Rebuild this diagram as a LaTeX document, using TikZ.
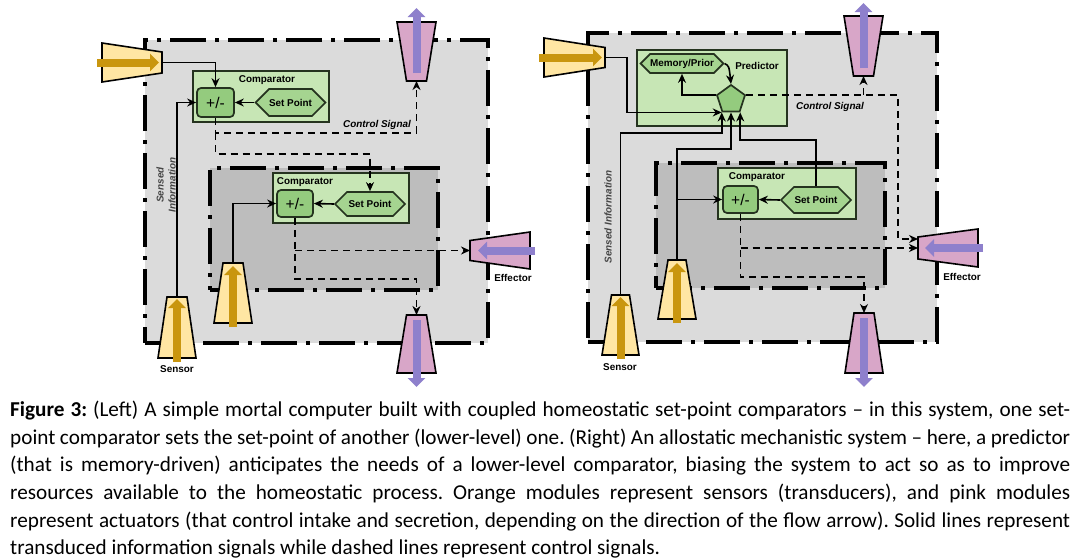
\documentclass[tikz,border=0pt]{standalone}
\usepackage{fontspec}
\setmainfont{Carlito}
\newfontfamily\arialf{Liberation Sans}
\usetikzlibrary{arrows.meta,shapes.geometric,shapes.symbols,calc}
\definecolor{lgray}{HTML}{DBDBDB}
\definecolor{dgray}{HTML}{BDBDBD}
\definecolor{cmpgreen}{HTML}{C7E6B5}
\definecolor{pmgreen}{HTML}{94CB7E}
\definecolor{spgreen}{HTML}{A5D490}
\definecolor{boxline}{HTML}{25331F}
\definecolor{sensfill}{HTML}{FFE6A3}
\definecolor{goldc}{HTML}{C9960F}
\definecolor{pinkfill}{HTML}{D8A6C8}
\definecolor{purp}{HTML}{8E80CC}
\definecolor{sensedc}{HTML}{454545}
\newcommand{\trapV}[7]{%
  \node[inner sep=0pt,outer sep=0pt,minimum width=#3pt,minimum height=#6pt] (#1) at #2 {};
  \draw[#7] ([xshift={(#3-#4)/2*1pt}]#1.south west) -- ([xshift={-(#3-#4)/2*1pt}]#1.south east)
     -- ([xshift={-(#3-#5)/2*1pt}]#1.north east) -- ([xshift={(#3-#5)/2*1pt}]#1.north west) -- cycle;}
\newcommand{\trapH}[7]{%
  \node[inner sep=0pt,outer sep=0pt,minimum width=#6pt,minimum height=#3pt] (#1) at #2 {};
  \draw[#7] ([yshift={-(#3-#4)/2*1pt}]#1.north west) -- ([yshift={(#3-#4)/2*1pt}]#1.south west)
     -- ([yshift={(#3-#5)/2*1pt}]#1.south east) -- ([yshift={-(#3-#5)/2*1pt}]#1.north east) -- cycle;}
\tikzset{
  diagfont/.style={font=\arialf\bfseries\fontsize{9.9}{11}\selectfont},
  lbl/.style={diagfont, inner sep=0pt},
  ctrllbl/.style={inner sep=0pt, font=\arialf\bfseries\itshape\fontsize{9.9}{11}\selectfont},
  sensedlbl/.style={inner sep=0pt, text=sensedc, rotate=90, align=center, font=\arialf\bfseries\itshape\fontsize{9.9}{12}\selectfont},
  sysbox/.style={draw=black, line width=3.6pt, dash pattern=on 36pt off 9pt on 4pt off 9pt, inner sep=0pt},
  greenbox/.style={draw=boxline, line width=1.7pt, fill=cmpgreen, inner sep=0pt},
  pmbox/.style={draw=boxline, line width=1.7pt, fill=pmgreen, rounded corners=4pt, inner sep=0pt, font=\arialf\fontsize{15.5}{15.5}\selectfont},
  hexa/.style={shape=signal, signal to=west and east, draw=boxline, line width=1.7pt, fill=spgreen, inner sep=0pt, diagfont},
  pentag/.style={regular polygon, regular polygon sides=5, minimum size=29.4pt, inner sep=0pt, draw=boxline, line width=1.7pt, fill=pmgreen},
  info/.style={draw=black, line width=1.6pt, -{Stealth[length=9pt,width=8pt]}},
  ctrl/.style={info, dash pattern=on 7pt off 5pt},
  sensorshape/.style={draw=black, line width=1.6pt, fill=sensfill},
  actshape/.style={draw=black, line width=1.6pt, fill=pinkfill},
  goldflow/.style={draw=goldc, line width=8pt, -{Triangle[length=9pt,width=17pt]}},
  purpflow/.style={draw=purp, line width=8pt, -{Triangle[length=9pt,width=17pt]}},
}
\begin{document}
\begin{tikzpicture}[x=1pt,y=-1pt]
\useasboundingbox (0,0) rectangle (1080,560);
\fill[white] (0,0) rectangle (1080,560);

% ================= LEFT =================
\node[sysbox, fill=lgray, minimum width=343pt, minimum height=303pt] (sysL) at (316.5,191.5) {};
\node[sysbox, fill=dgray, minimum width=228pt, minimum height=122pt] (subL) at (324,229) {};

\node[greenbox, minimum width=136pt, minimum height=51pt] (cmpL1) at (261,96.5) {};
\node[lbl] at (267,80) {Comparator};
\node[pmbox, minimum width=37pt, minimum height=29pt] (pmL1) at (215.5,102.5) {+/-};
\node[hexa, minimum width=69pt, minimum height=27pt] (spL1) at (290.5,102.5) {Set Point};

\node[greenbox, minimum width=136pt, minimum height=50pt] (cmpL2) at (341,198) {};
\node[lbl] at (305,182) {Comparator};
\node[pmbox, minimum width=36pt, minimum height=27pt] (pmL2) at (295,203.5) {+/-};
\node[hexa, minimum width=70pt, minimum height=24pt] (spL2) at (370,204) {Set Point};

\trapH{sTL}{(132,62.5)}{39}{39}{21}{60}{sensorshape}
\trapH{eL}{(500,250.5)}{37}{20}{37}{60}{actshape}
\trapV{aTL}{(416.5,51.5)}{39}{20}{39}{59}{actshape}
\trapV{aBL}{(416.5,344)}{39}{39}{20}{58}{actshape}
\trapV{sL1}{(177,327.5)}{38}{38}{20}{61}{sensorshape}
\trapV{sL2}{(233,293)}{38}{38}{20}{60}{sensorshape}

\draw[goldflow] ([xshift=-5pt]sTL.west) -- ([xshift=-3pt]sTL.east);
\draw[purpflow] ([xshift=5pt]eL.east) -- ([xshift=8pt]eL.west);
\draw[purpflow] ([yshift=8pt]aTL.south) -- ([yshift=14pt]aTL.north);
\draw[purpflow] ([yshift=-5pt]aBL.north) -- ([yshift=-14pt]aBL.south);
\draw[goldflow] ([yshift=-4pt]sL1.south) -- ([yshift=-2pt]sL1.north);
\draw[goldflow] ([yshift=-4pt]sL2.south) -- ([yshift=-3pt]sL2.north);

\coordinate (cL1) at (215.5,133);
\coordinate (cL2) at (215.5,154);
\coordinate (cL3) at (295,279);
\draw[info] (sTL.east) -| (pmL1.north);
\draw[info] (sL1.north) |- (pmL1.west);
\draw[info] (spL1.west) -- (pmL1.east);
\draw[ctrl] (pmL1.south) -- (cL1) -| (aTL.south);
\draw[ctrl] (cL1) -- (cL2) -| (spL2.north);
\draw[info] (sL2.north) |- (pmL2.west);
\draw[info] (spL2.west) -- (pmL2.east);
\draw[ctrl] (pmL2.south) -- (cL3) -| (aBL.north);
\draw[ctrl] (pmL2.south |- eL.west) -- (eL.west);

\node[ctrllbl] at (377,125) {Control Signal};
\node[sensedlbl] at (166,185) {Sensed\\Information};
\node[lbl] at (177,369) {Sensor};
\node[lbl] at (513,278) {Effector};

% ================= RIGHT =================
\node[sysbox, fill=lgray, minimum width=349pt, minimum height=309pt] (sysR) at (762.5,187.5) {};
\node[sysbox, fill=dgray, minimum width=229pt, minimum height=125pt] (subR) at (770.5,225.5) {};

\node[greenbox, minimum width=150pt, minimum height=76pt] (pred) at (712,88) {};
\node[lbl] at (757,66) {Predictor};
\node[hexa, minimum width=82pt, minimum height=19pt] (mem) at (682,63.5) {Memory/Prior};
\node[pentag] (pent) at (731,99.7) {};

\node[greenbox, minimum width=138pt, minimum height=51pt] (cmpR) at (787,193.5) {};
\node[lbl] at (757,177) {Comparator};
\node[pmbox, minimum width=35pt, minimum height=27pt] (pmR) at (740.5,199.5) {+/-};
\node[hexa, minimum width=70pt, minimum height=26pt] (spR) at (816,200) {Set Point};

\trapH{sTR}{(574.5,57.5)}{39}{39}{20}{61}{sensorshape}
\trapV{aTR}{(863.5,46)}{39}{20}{39}{60}{actshape}
\trapH{eR}{(948,248)}{38}{22}{38}{60}{actshape}
\trapV{aBR}{(864,343)}{38}{38}{20}{60}{actshape}
\trapV{sR1}{(620.5,325)}{37}{37}{18}{60}{sensorshape}
\trapV{sR2}{(677,289.5)}{38}{38}{18}{59}{sensorshape}

\draw[goldflow] ([xshift=-5pt]sTR.west) -- ([xshift=-3pt]sTR.east);
\draw[purpflow] ([xshift=5pt]eR.east) -- ([xshift=7pt]eR.west);
\draw[purpflow] ([yshift=8pt]aTR.south) -- ([yshift=13pt]aTR.north);
\draw[purpflow] ([yshift=-5pt]aBR.north) -- ([yshift=-14pt]aBR.south);
\draw[goldflow] ([yshift=-4pt]sR1.south) -- ([yshift=-2pt]sR1.north);
\draw[goldflow] ([yshift=-4pt]sR2.south) -- ([yshift=-3pt]sR2.north);

\coordinate (rA) at (627,57.5);
\coordinate (rB) at (620.5,133);
\coordinate (rC) at (677,149);
\coordinate (rD) at (816,140);
\coordinate (rE) at (898,239);
\coordinate (rF) at (740.5,277);
\draw[info] (sTR.east) -- (rA) |- (pent.corner 3);
\draw[info] (sR1.north) -- (rB) -| (pent.corner 3);
\draw[info] (sR2.north) -- (rC) -| (pent.south);
\draw[info] (sR2.north |- pmR.west) -- (pmR.west);
\draw[info] (spR.north) -- (rD) -| (pent.corner 4);
\draw[info] (spR.west) -- (pmR.east);
\draw[info] (pent.corner 2) -| (mem.south);
\draw[info] (mem.east) .. controls (729,66) .. (pent.corner 1);
\draw[ctrl] (pent.corner 5) -| (rE) -- ([yshift=9pt]eR.west);
\draw[ctrl] (aTR.south |- pent.corner 5) -- (aTR.south);
\draw[ctrl] (pmR.south) -- (rF) -| (aBR.north);
\draw[ctrl] (pmR.south |- eR.west) -- (eR.west);

\node[ctrllbl] at (830,107) {Control Signal};
\node[sensedlbl] at (608,217) {Sensed Information};
\node[lbl] at (620,367) {Sensor};
\node[lbl] at (962,277) {Effector};

% ================= CAPTION =================
\node[anchor=north west, inner sep=0pt, text width=1060pt, align=justify, font=\fontsize{21.2}{27.6}\selectfont\frenchspacing] (cap) at (10,401) {\textbf{Figure 3:} (Left) A simple mortal computer built with coupled homeostatic set-point comparators – in this system, one set-\linebreak point comparator sets the set-point of another (lower-level) one. (Right) An allostatic mechanistic system – here, a predictor\linebreak (that is memory-driven) anticipates the needs of a lower-level comparator, biasing the system to act so as to improve\linebreak resources available to the homeostatic process. Orange modules represent sensors (transducers), and pink modules\linebreak represent actuators (that control intake and secretion, depending on the direction of the flow arrow). Solid lines represent\linebreak transduced information signals while dashed lines represent control signals.};
\end{tikzpicture}
\end{document}
